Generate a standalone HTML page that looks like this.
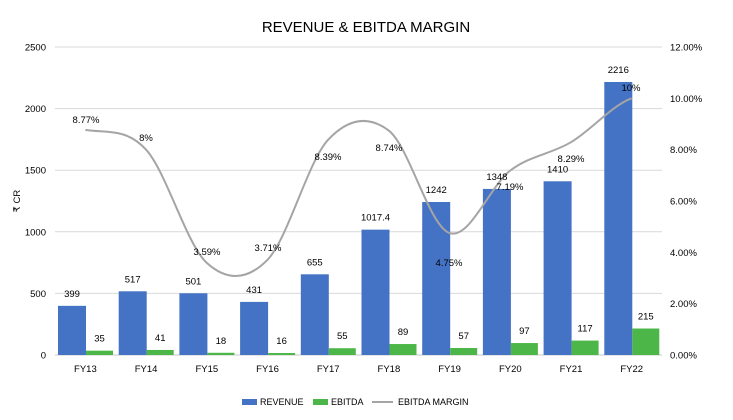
<!DOCTYPE html>
<html><head><meta charset="utf-8"><style>
html,body{margin:0;padding:0;background:#fff;}
svg{display:block;font-family:"Liberation Sans",sans-serif;}
</style></head><body>
<svg id="c" width="733" height="420" viewBox="0 0 733 420" xmlns="http://www.w3.org/2000/svg">
<rect width="733" height="420" fill="#fff"/>
<text x="366" y="32" text-anchor="middle" font-size="15" fill="#000">REVENUE &amp; EBITDA MARGIN</text>
<text transform="translate(20,201) rotate(-90)" text-anchor="middle" font-size="9.5" fill="#000">₹ CR</text>
<g id="g"></g>
<path d="M85.4,129.9 C105.6,133.2 125.9,127.5 146.1,149.7 C166.3,171.9 186.6,244.5 206.8,262.9 C227,281.3 247.3,280.3 267.5,259.8 C287.7,239.3 308,161.2 328.2,139.7 C348.4,118.2 368.7,115.1 388.9,130.7 C409.1,146.3 429.4,226.5 449.6,233.1 C469.8,239.7 490.1,185.7 510.3,170.5 C530.5,155.3 550.8,154.2 571,142.2 C591.2,130.2 611.5,105.6 631.7,98.3" fill="none" stroke="#a5a5a5" stroke-width="2"/>
<g id="lab" font-size="9.5" fill="#000" text-anchor="middle"></g>
<rect x="242" y="399" width="15" height="6" fill="#4472c4"/>
<text x="260" y="405" font-size="9">REVENUE</text>
<rect x="313" y="399" width="15" height="6" fill="#4cb748"/>
<text x="331" y="405" font-size="9">EBITDA</text>
<line x1="372" y1="402" x2="393" y2="402" stroke="#a5a5a5" stroke-width="2"/>
<text x="398" y="405" font-size="9">EBITDA MARGIN</text>
</svg>
<script>
var ns="http://www.w3.org/2000/svg",g=document.getElementById('g'),lab=document.getElementById('lab');
function el(p,t,a,txt){var e=document.createElementNS(ns,t);for(var k in a)e.setAttribute(k,a[k]);if(txt!=null)e.textContent=txt;p.appendChild(e);return e;}
var Y0=355,sc=308/2500;
for(var i=0;i<=5;i++){var y=Y0-i*500*sc;
 el(g,'line',{x1:55,x2:662,y1:y,y2:y,stroke:i?'#d9d9d9':'#c8c8c8','stroke-width':1});
 el(g,'text',{x:46,y:y+3.5,'text-anchor':'end','font-size':9.5},String(i*500));}
for(var i=0;i<=6;i++){var y=Y0-i*308/6;
 el(g,'text',{x:670,y:y+3.5,'font-size':9.5},(i*2).toFixed(2)+'%');}
var rev=[399,517,501,431,655,1017.4,1242,1348,1410,2216],eb=[35,41,18,16,55,89,57,97,117,215];
var fy=['FY13','FY14','FY15','FY16','FY17','FY18','FY19','FY20','FY21','FY22'];
for(var i=0;i<10;i++){var x0=55+60.7*i;
 var h=rev[i]*sc;el(g,'rect',{x:x0+3,y:Y0-h,width:28,height:h,fill:'#4472c4'});
 el(lab,'text',{x:x0+17,y:Y0-h-9},String(rev[i]));
 var h2=eb[i]*sc;el(g,'rect',{x:x0+31,y:Y0-h2,width:27,height:h2,fill:'#4cb748'});
 el(lab,'text',{x:x0+44.5,y:Y0-h2-9},String(eb[i]));
 el(lab,'text',{x:x0+30.4,y:372},fy[i]);}
var pl=[['8.77%',86,123],['8%',146,141],['3.59%',207,255],['3.71%',268,251],['8.39%',328,160],['8.74%',389,151],['4.75%',449,266],['7.19%',510,190],['8.29%',571,162],['10%',631,91]];
pl.forEach(function(p){el(lab,'text',{x:p[1],y:p[2]},p[0]);});
</script>
</body></html>
